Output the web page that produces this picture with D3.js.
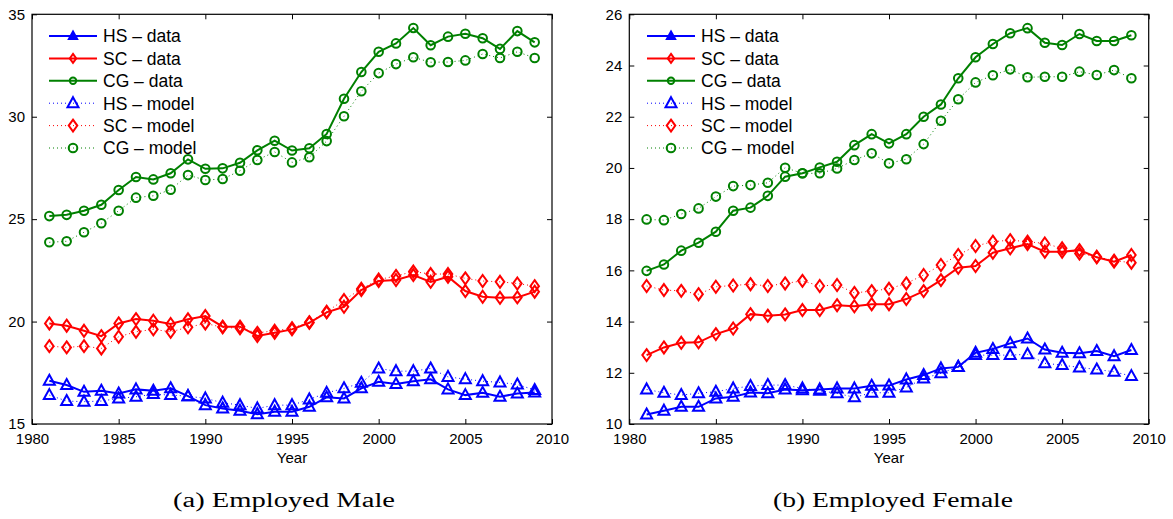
<!DOCTYPE html>
<html>
<head>
<meta charset="utf-8">
<script src="https://cdn.jsdelivr.net/npm/d3@7"></script>
<style>
  body { margin: 0; background: #fff; }
</style>
</head>
<body>
<svg id="chart" width="1173" height="519"></svg>
<script>
// years shared by both panels
const years = d3.range(1981, 2010);

// Employed male (panel a)
const maleHSdata  = [17.11,16.90,16.57,16.62,16.49,16.69,16.62,16.74,16.36,15.92,15.76,15.65,15.48,15.60,15.60,15.84,16.30,16.25,16.74,17.06,16.95,17.09,17.18,16.69,16.41,16.52,16.33,16.49,16.54];
const maleHSmodel = [16.41,16.12,16.09,16.12,16.25,16.33,16.46,16.41,16.36,16.25,16.04,15.92,15.76,15.92,15.92,16.20,16.52,16.74,17.01,17.71,17.58,17.58,17.71,17.30,17.19,17.09,17.03,16.93,16.66];
const maleSCdata  = [19.91,19.80,19.55,19.29,19.91,20.12,20.04,19.88,20.11,20.27,19.75,19.75,19.30,19.45,19.62,19.94,20.45,20.72,21.54,21.98,22.03,22.27,21.94,22.19,21.49,21.21,21.16,21.18,21.46];
const maleSCmodel = [18.80,18.74,18.80,18.69,19.26,19.50,19.62,19.50,19.72,19.91,19.72,19.67,19.45,19.55,19.68,19.97,20.48,21.05,21.60,22.05,22.23,22.44,22.32,22.32,22.11,21.98,21.94,21.86,21.73];
const maleCGdata  = [25.15,25.21,25.41,25.70,26.42,27.06,26.94,27.24,27.92,27.46,27.48,27.75,28.36,28.83,28.35,28.46,29.16,30.88,32.18,33.17,33.58,34.33,33.49,33.91,34.05,33.83,33.31,34.18,33.63];
const maleCGmodel = [23.87,23.92,24.36,24.80,25.41,26.05,26.14,26.44,27.15,26.91,26.96,27.36,27.89,28.28,27.77,28.02,28.81,30.02,31.24,32.13,32.57,32.90,32.66,32.67,32.75,33.06,32.87,33.17,32.87];

// Employed female (panel b)
const femHSdata  = [10.37,10.52,10.67,10.67,11.00,11.06,11.23,11.20,11.35,11.32,11.35,11.39,11.39,11.49,11.50,11.74,11.91,12.17,12.23,12.78,12.93,13.15,13.34,12.91,12.78,12.76,12.85,12.65,12.89];
const femHSmodel = [11.35,11.22,11.13,11.20,11.26,11.39,11.48,11.52,11.52,11.39,11.30,11.20,11.04,11.22,11.22,11.43,11.78,11.98,12.23,12.69,12.69,12.69,12.72,12.37,12.30,12.21,12.13,12.04,11.87];
const femSCdata  = [12.69,12.99,13.17,13.19,13.51,13.73,14.29,14.23,14.28,14.45,14.45,14.64,14.60,14.68,14.68,14.88,15.19,15.62,16.10,16.17,16.69,16.86,17.03,16.73,16.73,16.79,16.51,16.34,16.60];
const femSCmodel = [15.39,15.23,15.20,15.07,15.36,15.41,15.46,15.39,15.49,15.59,15.39,15.43,15.12,15.19,15.28,15.49,15.82,16.21,16.60,16.95,17.12,17.18,17.12,17.05,16.86,16.66,16.53,16.38,16.30];
const femCGdata  = [15.98,16.23,16.77,17.08,17.51,18.33,18.45,18.91,19.66,19.79,20.02,20.24,20.89,21.32,20.96,21.32,22.00,22.48,23.50,24.32,24.84,25.26,25.46,24.89,24.80,25.23,24.96,24.96,25.18];
const femCGmodel = [17.99,17.96,18.20,18.42,18.88,19.29,19.33,19.42,20.01,19.79,19.79,19.98,20.31,20.57,20.18,20.34,20.93,21.84,22.68,23.34,23.62,23.85,23.54,23.56,23.56,23.76,23.63,23.82,23.50];

const xTicks = [1980, 1985, 1990, 1995, 2000, 2005, 2010];
const maleYTicks = [15, 20, 25, 30, 35];
const femYTicks = [10, 12, 14, 16, 18, 20, 22, 24, 26];
const legendLabels = ['HS \u2013 data', 'SC \u2013 data', 'CG \u2013 data', 'HS \u2013 model', 'SC \u2013 model', 'CG \u2013 model'];

const sans = '"Liberation Sans", Arial, Helvetica, sans-serif';
const svg = d3.select('#chart');

// marker shapes, k scales the size (legend uses smaller data markers)
function marker(sel, kind, color, k, filled) {
    k = k || 1;
    if (kind === 'tri') {
        sel.append('path').attr('d', `M0,${-6 * k}L${5.5 * k},${4 * k}L${-5.5 * k},${4 * k}Z`);
    } else if (kind === 'dia') {
        sel.append('path').attr('d', `M0,${-6 * k}L${4.3 * k},0L0,${6 * k}L${-4.3 * k},0Z`);
    } else {
        sel.append('circle').attr('r', 4.3 * k);
    }
    sel.selectAll('path,circle')
        .attr('fill', filled ? color : 'none')
        .attr('stroke', color)
        .attr('stroke-width', 2);
}

function drawPanel(opt) {
    const x = d3.scaleLinear().domain([1980, 2010]).range([opt.left, opt.right]);
    const y = d3.scaleLinear().domain(opt.yDomain).range([424, 14.3]);
    const g = svg.append('g');

    const series = [
        {vals: opt.hsData,  color: '#0000ff', kind: 'tri', model: false},
        {vals: opt.scData,  color: '#ff0000', kind: 'dia', model: false},
        {vals: opt.cgData,  color: '#008000', kind: 'cir', model: false},
        {vals: opt.hsModel, color: '#0000ff', kind: 'tri', model: true},
        {vals: opt.scModel, color: '#ff0000', kind: 'dia', model: true},
        {vals: opt.cgModel, color: '#008000', kind: 'cir', model: true}
    ];

    const line = d3.line().x((d, i) => x(years[i])).y(d => y(d));

    // model first, data on top
    [3, 4, 5, 0, 1, 2].forEach(k => {
        const s = series[k];
        g.append('path')
            .attr('d', line(s.vals))
            .attr('fill', 'none')
            .attr('stroke', s.color)
            .attr('stroke-width', s.model ? 1 : 2)
            .attr('stroke-dasharray', s.model ? '1,3' : null);
        s.vals.forEach((v, i) => {
            const m = g.append('g').attr('transform', 'translate(' + x(years[i]) + ',' + y(v) + ')');
            marker(m, s.kind, s.color);
        });
    });

    // axes with inward ticks
    const xAxis = d3.axisBottom(x).tickValues(xTicks).tickFormat(d3.format('d'))
        .tickSizeInner(-5).tickSizeOuter(0).tickPadding(9);
    const xTop = d3.axisTop(x).tickValues(xTicks).tickFormat('').tickSizeInner(-5).tickSizeOuter(0);
    const yAxis = d3.axisLeft(y).tickValues(opt.yTicks).tickSizeInner(-5).tickSizeOuter(0).tickPadding(7);
    const yRight = d3.axisRight(y).tickValues(opt.yTicks).tickFormat('').tickSizeInner(-5).tickSizeOuter(0);

    const axes = [
        g.append('g').attr('transform', 'translate(0,424)').call(xAxis),
        g.append('g').attr('transform', 'translate(0,14.3)').call(xTop),
        g.append('g').attr('transform', 'translate(' + opt.left + ',0)').call(yAxis),
        g.append('g').attr('transform', 'translate(' + opt.right + ',0)').call(yRight)
    ];
    axes.forEach(a => {
        a.select('.domain').remove();
        a.selectAll('line').attr('stroke', '#000');
        a.attr('font-size', 15).attr('font-family', sans);
        a.selectAll('text').attr('fill', '#000');
    });

    g.append('rect')
        .attr('x', opt.left).attr('y', 14.3)
        .attr('width', opt.right - opt.left).attr('height', 424 - 14.3)
        .attr('fill', 'none').attr('stroke', '#000').attr('stroke-width', 1.2);

    g.append('text')
        .attr('x', (opt.left + opt.right) / 2).attr('y', 463)
        .attr('text-anchor', 'middle')
        .style('font-family', sans).style('font-size', '15px')
        .text('Year');

    // legend
    const lg = g.append('g');
    legendLabels.forEach((lab, i) => {
        const s = series[i];
        const ly = 36 + i * 22.4;
        lg.append('line')
            .attr('x1', opt.legX).attr('x2', opt.legX + 48)
            .attr('y1', ly).attr('y2', ly)
            .attr('stroke', s.color)
            .attr('stroke-width', s.model ? 1 : 2)
            .attr('stroke-dasharray', s.model ? '1,3' : null);
        const m = lg.append('g').attr('transform', 'translate(' + (opt.legX + 24) + ',' + ly + ')');
        if (s.model) marker(m, s.kind, s.color, 1, false);
        else marker(m, s.kind, s.color, 0.75, s.kind === 'tri');
        lg.append('text')
            .attr('x', opt.legX + 54).attr('y', ly + 6.3)
            .style('font-family', sans).style('font-size', '17.5px')
            .text(lab);
    });

    g.append('text')
        .attr('x', opt.capX).attr('y', 507)
        .attr('text-anchor', 'middle')
        .attr('textLength', opt.capW).attr('lengthAdjust', 'spacingAndGlyphs')
        .style('font-family', '"Liberation Serif", "Times New Roman", serif')
        .style('font-size', '20px')
        .text(opt.caption);
}

drawPanel({
    left: 32, right: 552, yDomain: [15, 35], yTicks: maleYTicks,
    hsData: maleHSdata, scData: maleSCdata, cgData: maleCGdata,
    hsModel: maleHSmodel, scModel: maleSCmodel, cgModel: maleCGmodel,
    legX: 49, capX: 284, capW: 222, caption: '(a) Employed Male'
});

drawPanel({
    left: 629.3, right: 1148.7, yDomain: [10, 26], yTicks: femYTicks,
    hsData: femHSdata, scData: femSCdata, cgData: femCGdata,
    hsModel: femHSmodel, scModel: femSCmodel, cgModel: femCGmodel,
    legX: 647, capX: 893, capW: 240, caption: '(b) Employed Female'
});
</script>
</body>
</html>
